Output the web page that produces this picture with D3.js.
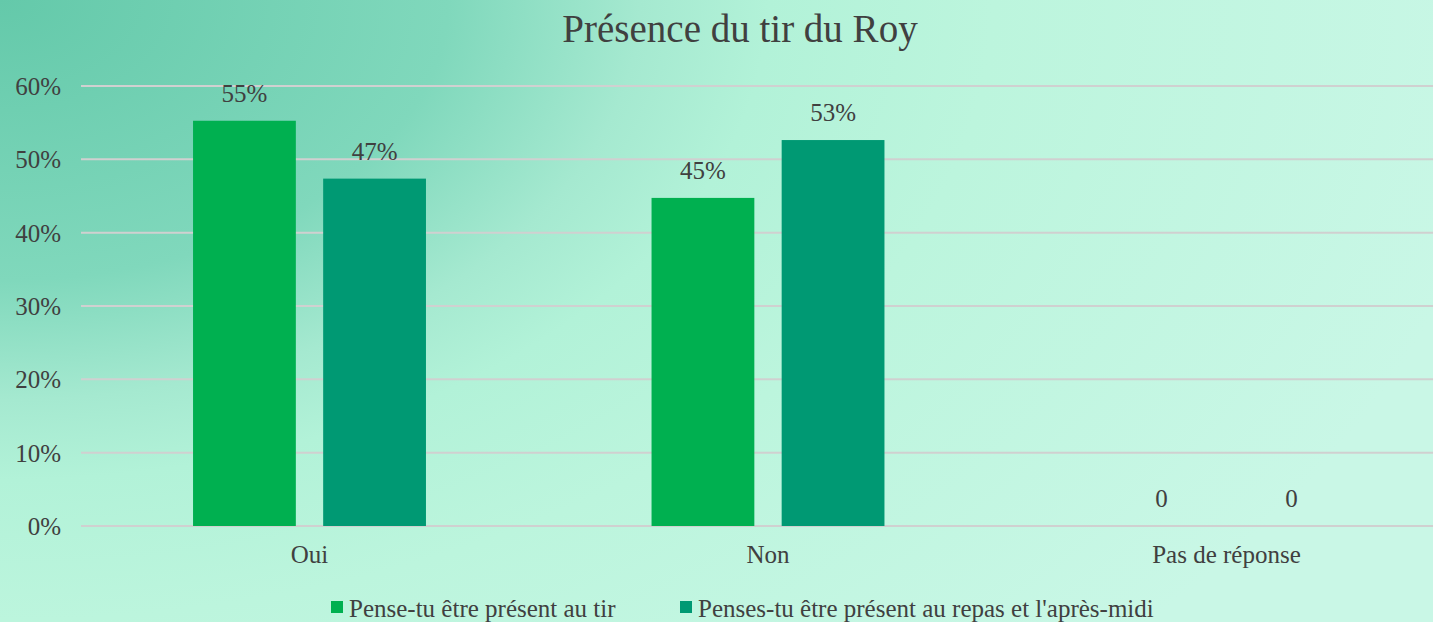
<!DOCTYPE html>
<html>
<head>
<meta charset="utf-8">
<script src="https://cdn.jsdelivr.net/npm/d3@7"></script>
<style>
  html, body { margin: 0; padding: 0; overflow: hidden; }
  svg { display: block; }
  svg text { font-family: "Liberation Serif", "Times New Roman", serif !important; fill: #404040; }
</style>
</head>
<body>
<svg id="chart" width="1433" height="622"></svg>
<script>
const title = "Présence du tir du Roy";
const categories = ["Oui", "Non", "Pas de réponse"];
const seriesNames = ["Pense-tu être présent au tir", "Penses-tu être présent au repas et l'après-midi"];
const seriesTir = [0.5526, 0.4474, 0];
const seriesRepas = [0.4737, 0.5263, 0];
const yTicks = [0, 0.1, 0.2, 0.3, 0.4, 0.5, 0.6];
const colors = ["#00B050", "#009973"];

const FONT = "Liberation Serif, Times New Roman, serif";
const svg = d3.select("#chart");
const W = 1433, H = 622;

// background gradient
const defs = svg.append("defs");
const grad = defs.append("radialGradient").attr("id", "bg")
  .attr("gradientUnits", "userSpaceOnUse").attr("cx", 0).attr("cy", 0).attr("r", 950)
  .attr("gradientTransform", "scale(1.6,1)");
[[0, "#64c9aa"], [0.295, "#80d8bc"], [0.421, "#a5e9d0"], [0.505, "#b2f2d8"], [0.653, "#bcf5dd"], [1, "#c9f7e6"]]
  .forEach(([o, c]) => grad.append("stop").attr("offset", o).attr("stop-color", c));
svg.append("rect").attr("width", W).attr("height", H).attr("fill", "url(#bg)");

const x0 = d3.scaleBand().domain(categories).range([80.25, 1455.75]).paddingInner(0.492).paddingOuter(0.246);
const x1 = d3.scaleBand().domain([0, 1]).range([0, x0.bandwidth()]).paddingInner(0.21);
const y = d3.scaleLinear().domain([0, 0.6]).range([526, 86]);

// gridlines
svg.append("g").selectAll("line").data(yTicks).join("line")
  .attr("x1", 81).attr("x2", W)
  .attr("y1", d => y(d)).attr("y2", d => y(d))
  .attr("stroke", "#d0d0d0").attr("stroke-width", 2);

// y axis labels
const yAxis = d3.axisLeft(y).tickValues(yTicks).tickFormat(d3.format(".0%")).tickSize(0).tickPadding(0);
const ya = svg.append("g").attr("transform", "translate(61,0)").call(yAxis)
  .attr("font-family", FONT);
ya.select(".domain").remove();
ya.selectAll("text").attr("font-size", 25).attr("fill", "#404040")
  .attr("font-family", FONT).attr("dy", "0.34em");

// bars
const series = [seriesTir, seriesRepas];
const groups = svg.append("g").selectAll("g").data(categories).join("g")
  .attr("transform", d => `translate(${x0(d)},0)`);
groups.selectAll("rect").data((c, i) => series.map((s, k) => ({k, v: s[i]})))
  .join("rect")
  .attr("x", d => x1(d.k)).attr("width", x1.bandwidth())
  .attr("y", d => y(d.v)).attr("height", d => y(0) - y(d.v))
  .attr("fill", d => colors[d.k]);
groups.selectAll("text.val").data((c, i) => series.map((s, k) => ({k, v: s[i]})))
  .join("text").attr("class", "val")
  .attr("x", d => x1(d.k) + x1.bandwidth() / 2)
  .attr("y", d => y(d.v) - 19)
  .attr("text-anchor", "middle").attr("font-size", 25).attr("font-family", FONT)
  .text(d => d.v === 0 ? "0" : d3.format(".0%")(d.v));

// x axis labels
const xAxis = d3.axisBottom(x0).tickSize(0).tickPadding(0);
const xa = svg.append("g").attr("transform", "translate(0,563)").call(xAxis)
  .attr("font-family", FONT);
xa.select(".domain").remove();
xa.selectAll("text").attr("font-size", 25).attr("fill", "#404040")
  .attr("font-family", FONT).attr("dy", 0);

// title
svg.append("text").attr("x", 740).attr("y", 42).attr("text-anchor", "middle")
  .attr("font-size", 39).attr("font-family", FONT).text(title);

// legend
const legX = [331, 680];
const leg = svg.append("g").selectAll("g").data(seriesNames).join("g")
  .attr("transform", (d, i) => `translate(${legX[i]},0)`);
leg.append("rect").attr("x", 0).attr("y", 601).attr("width", 12).attr("height", 12)
  .attr("fill", (d, i) => colors[i]);
leg.append("text").attr("x", 18).attr("y", 617).attr("font-size", 25)
  .attr("font-family", FONT).text(d => d);
</script>
</body>
</html>
